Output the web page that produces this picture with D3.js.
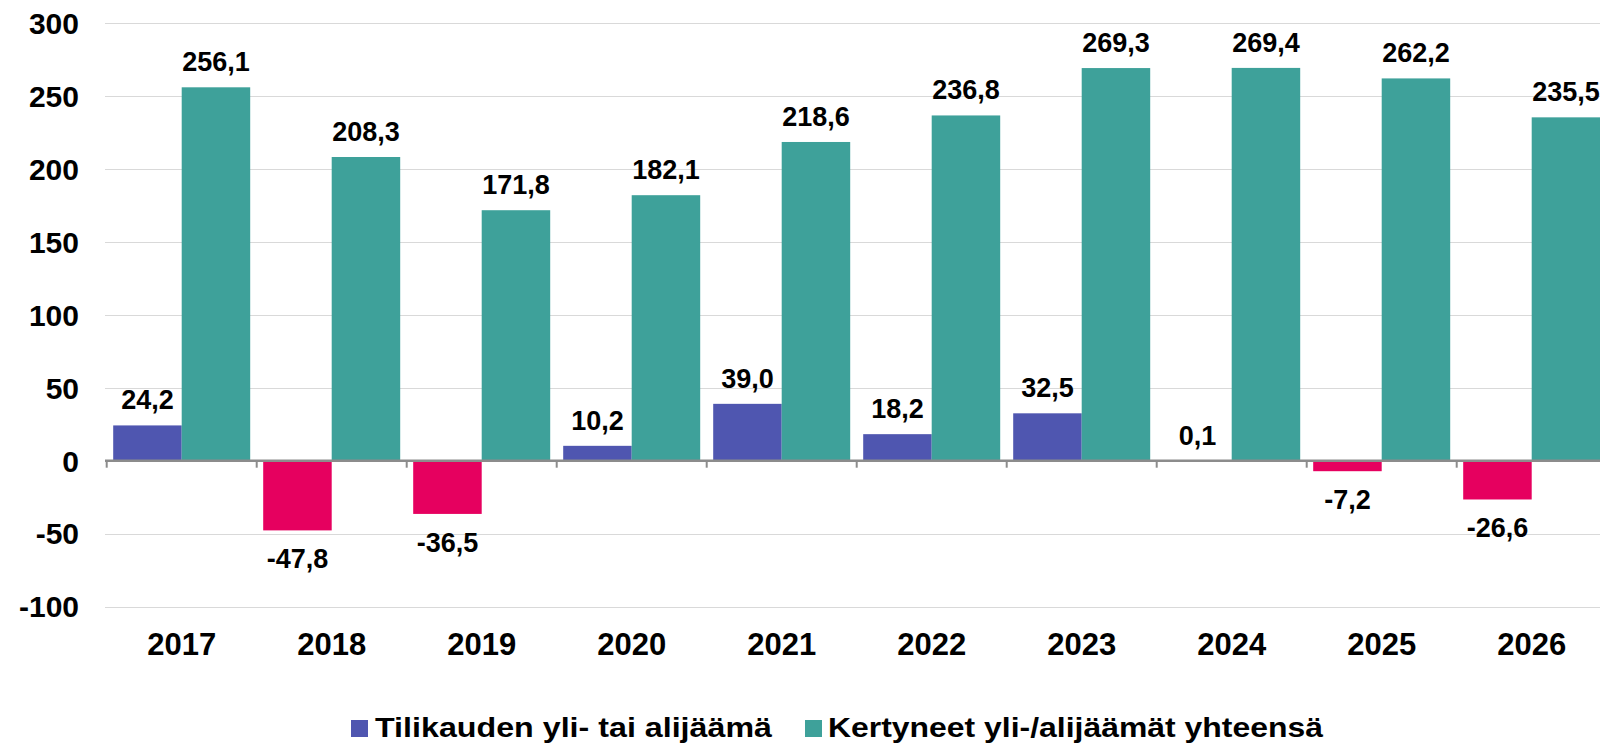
<!DOCTYPE html>
<html>
<head>
<meta charset="utf-8">
<script src="https://cdnjs.cloudflare.com/ajax/libs/d3/7.8.5/d3.min.js"></script>
<style>
	html, body { margin: 0; padding: 0; background: #fff; overflow: hidden; }
	svg { display: block; font-family: "Liberation Sans", Arial, sans-serif; font-weight: bold; }
</style>
</head>
<body>
<script>
// chart data
var years = ['2017', '2018', '2019', '2020', '2021', '2022', '2023', '2024', '2025', '2026'];
var tilikausi = [24.2, -47.8, -36.5, 10.2, 39.0, 18.2, 32.5, 0.1, -7.2, -26.6];
var kertyneet = [256.1, 208.3, 171.8, 182.1, 218.6, 236.8, 269.3, 269.4, 262.2, 235.5];
var yTicks = [-100, -50, 0, 50, 100, 150, 200, 250, 300];
var seriesNames = ['Tilikauden yli- tai alijäämä', 'Kertyneet yli-/alijäämät yhteensä'];

var width = 1600, height = 745;
var colPurple = '#4f56b0', colPink = '#e6005f', colGreen = '#3ea19a';

var svg = d3.select('body').append('svg')
	.attr('width', width)
	.attr('height', height);

var x = d3.scaleBand()
	.domain(years)
	.range([106.7, 1606.7]);

// two bars inside each year
var x1 = d3.scaleBand()
	.domain([0, 1])
	.range([6.5, x.bandwidth() - 6.5]);

var y = d3.scaleLinear()
	.domain([-100, 300])
	.range([606.5, 23.3]);

// finnish decimal comma, plain hyphen for minus
var fmt = function(v) { return v.toFixed(1).replace('.', ','); };

// gridlines
svg.append('g').selectAll('line')
	.data(yTicks.filter(function(d) { return d !== 0; }))
	.enter().append('line')
	.attr('x1', 105)
	.attr('x2', width)
	.attr('y1', function(d) { return Math.round(y(d)) + 0.5; })
	.attr('y2', function(d) { return Math.round(y(d)) + 0.5; })
	.attr('stroke', '#d9d9d9')
	.attr('stroke-width', 1);

// y labels
svg.append('g').selectAll('text')
	.data(yTicks)
	.enter().append('text')
	.attr('x', 79)
	.attr('y', function(d) { return y(d); })
	.attr('dy', '0.36em')
	.attr('text-anchor', 'end')
	.attr('font-size', 30)
	.attr('fill', '#000')
	.text(function(d) { return d; });

var rows = years.map(function(yr, i) {
	return { year: yr, vals: [tilikausi[i], kertyneet[i]] };
});

var groups = svg.append('g').selectAll('g')
	.data(rows)
	.enter().append('g')
	.attr('transform', function(d) { return 'translate(' + x(d.year) + ',0)'; });

var bars = groups.selectAll('rect')
	.data(function(d) { return d.vals.map(function(v, k) { return { v: v, k: k }; }); })
	.enter();

bars.append('rect')
	.attr('x', function(d) { return x1(d.k); })
	.attr('width', x1.bandwidth())
	.attr('y', function(d) { return y(Math.max(0, d.v)); })
	.attr('height', function(d) { return Math.abs(y(d.v) - y(0)); })
	.attr('fill', function(d) {
		if (d.k === 1) return colGreen;
		return d.v < 0 ? colPink : colPurple;
	});

// value labels
bars.append('text')
	.attr('x', function(d) { return x1(d.k) + x1.bandwidth() / 2; })
	.attr('y', function(d) {
		return d.v < 0 ? y(d.v) + 38 : y(d.v) - 16;
	})
	.attr('text-anchor', 'middle')
	.attr('font-size', 27)
	.attr('fill', '#000')
	.text(function(d) { return fmt(d.v); });

// zero axis line + ticks
svg.append('line')
	.attr('x1', 105)
	.attr('x2', width)
	.attr('y1', y(0))
	.attr('y2', y(0))
	.attr('stroke', '#8c8c8c')
	.attr('stroke-width', 2.5);

svg.append('g').selectAll('line')
	.data(years)
	.enter().append('line')
	.attr('x1', function(d) { return x(d); })
	.attr('x2', function(d) { return x(d); })
	.attr('y1', y(0))
	.attr('y2', y(0) + 7)
	.attr('stroke', '#8c8c8c')
	.attr('stroke-width', 2);

// x labels
svg.append('g').selectAll('text')
	.data(years)
	.enter().append('text')
	.attr('x', function(d) { return x(d) + x.bandwidth() / 2; })
	.attr('y', 655)
	.attr('text-anchor', 'middle')
	.attr('font-size', 31)
	.attr('fill', '#000')
	.text(function(d) { return d; });

// legend
var legend = [
	{ name: seriesNames[0], color: colPurple, sx: 351, tx: 375, tw: 397 },
	{ name: seriesNames[1], color: colGreen, sx: 805, tx: 828, tw: 495 }
];
var lg = svg.append('g').selectAll('g')
	.data(legend)
	.enter().append('g');

lg.append('rect')
	.attr('x', function(d) { return d.sx; })
	.attr('y', 720)
	.attr('width', 17)
	.attr('height', 17)
	.attr('fill', function(d) { return d.color; });

lg.append('text')
	.attr('x', function(d) { return d.tx; })
	.attr('y', 737)
	.attr('font-size', 28)
	.attr('textLength', function(d) { return d.tw; })
	.attr('lengthAdjust', 'spacingAndGlyphs')
	.attr('fill', '#000')
	.text(function(d) { return d.name; });
</script>
</body>
</html>
